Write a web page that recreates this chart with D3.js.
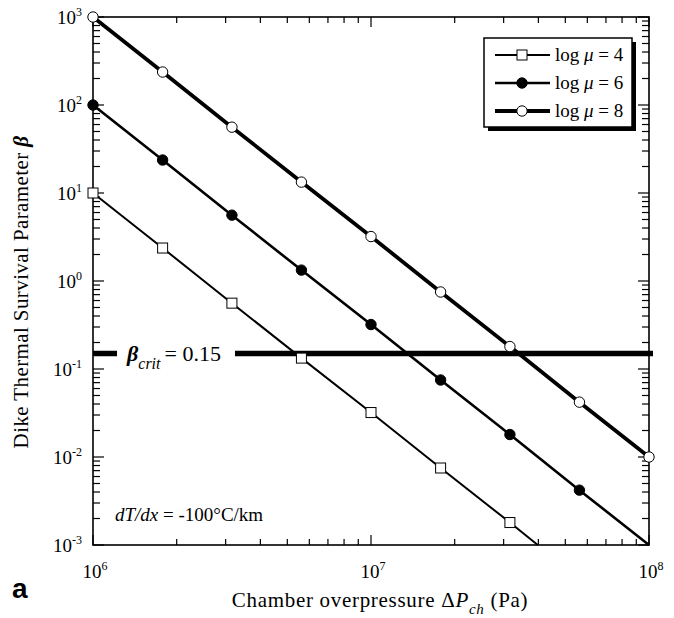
<!DOCTYPE html>
<html>
<head>
<meta charset="utf-8">
<script src="https://cdn.jsdelivr.net/npm/d3@7"></script>
<style>
  body { margin: 0; background: #fff; }
  text { font-family: "Liberation Serif", "Times New Roman", serif; fill: #000; }
</style>
</head>
<body>
<div id="chart"></div>
<script>
// chamber overpressure (Pa) at the marker positions
var pressures = [1e6, 1.78e6, 3.16e6, 5.62e6, 1e7, 1.78e7, 3.16e7, 5.62e7, 1e8];

// beta for each viscosity
var betaMu4 = [10, 2.37, 0.56, 0.133, 0.032, 0.0075, 0.0018];
var betaMu6 = [100, 23.7, 5.6, 1.33, 0.32, 0.075, 0.018, 0.0042];
var betaMu8 = [1000, 237, 56, 13.3, 3.2, 0.75, 0.18, 0.042, 0.01];

// where each line leaves the plot (no marker there)
var lineEndMu4 = [3.98e7, 0.001];
var lineEndMu6 = [1e8, 0.001];

var betaCrit = 0.15;
var seriesLogMu = ['4', '6', '8'];
var xTickExps = [6, 7, 8];
var yTickExps = [-3, -2, -1, 0, 1, 2, 3];

var W = 674, H = 618;
var margin = { top: 17, right: 25, bottom: 73, left: 93 },
    width = W - margin.left - margin.right,
    height = H - margin.top - margin.bottom;

var svg = d3.select('#chart').append('svg')
    .attr('width', W)
    .attr('height', H);

var g = svg.append('g')
    .attr('transform', 'translate(' + margin.left + ',' + margin.top + ')');

var x = d3.scaleLog().domain([1e6, 1e8]).range([0, width]);
var y = d3.scaleLog().domain([1e-3, 1e3]).range([height, 0]);

// tick positions: majors at decades, minors 2..9
function minorTicks(lo, hi) {
    var out = [];
    for (var e = lo; e < hi; e++) {
        for (var m = 2; m <= 9; m++) out.push(m * Math.pow(10, e));
    }
    return out;
}
var xMinor = minorTicks(6, 8);
var yMinor = minorTicks(-3, 3);

var axes = g.append('g').attr('stroke', '#000').attr('stroke-width', 1.2);

// bottom + top ticks
xMinor.forEach(function(v) {
    axes.append('line').attr('x1', x(v)).attr('x2', x(v)).attr('y1', height).attr('y2', height - 6);
    axes.append('line').attr('x1', x(v)).attr('x2', x(v)).attr('y1', 0).attr('y2', 6);
});
xTickExps.forEach(function(e) {
    var v = Math.pow(10, e);
    axes.append('line').attr('x1', x(v)).attr('x2', x(v)).attr('y1', height).attr('y2', height - 10);
    axes.append('line').attr('x1', x(v)).attr('x2', x(v)).attr('y1', 0).attr('y2', 10);
});
// left + right ticks
yMinor.forEach(function(v) {
    axes.append('line').attr('x1', 0).attr('x2', 7).attr('y1', y(v)).attr('y2', y(v));
    axes.append('line').attr('x1', width).attr('x2', width - 7).attr('y1', y(v)).attr('y2', y(v));
});
yTickExps.forEach(function(e) {
    var v = Math.pow(10, e);
    axes.append('line').attr('x1', 0).attr('x2', 11).attr('y1', y(v)).attr('y2', y(v));
    axes.append('line').attr('x1', width).attr('x2', width - 11).attr('y1', y(v)).attr('y2', y(v));
});

// frame
g.append('rect')
    .attr('width', width).attr('height', height)
    .attr('fill', 'none').attr('stroke', '#000').attr('stroke-width', 1.6);

// tick labels
yTickExps.forEach(function(e) {
    var t = g.append('text')
        .attr('x', -11).attr('y', y(Math.pow(10, e)) + 7)
        .attr('text-anchor', 'end')
        .style('font-size', '19px');
    t.append('tspan').text('10');
    t.append('tspan').attr('dy', -8).style('font-size', '12px').text(e);
});
xTickExps.forEach(function(e) {
    var t = g.append('text')
        .attr('x', x(Math.pow(10, e)) + 2).attr('y', height + 33)
        .attr('text-anchor', 'middle')
        .style('font-size', '19px');
    t.append('tspan').text('10');
    t.append('tspan').attr('dy', -8).style('font-size', '12px').text(e);
});

// beta crit line, with gap for its label
var yc = y(betaCrit);
g.append('line').attr('x1', 0).attr('x2', 24).attr('y1', yc).attr('y2', yc)
    .attr('stroke', '#000').attr('stroke-width', 5.5);
g.append('line').attr('x1', 142).attr('x2', width + 4).attr('y1', yc).attr('y2', yc)
    .attr('stroke', '#000').attr('stroke-width', 5.5);
var lab = g.append('text').attr('x', 34).attr('y', yc + 7).style('font-size', '22px');
lab.append('tspan').style('font-style', 'italic').style('font-weight', 'bold').text('\u03b2');
lab.append('tspan').attr('dy', 8).style('font-style', 'italic').style('font-size', '16px').text('crit');
lab.append('tspan').attr('dy', -8).attr('dx', 4).text('= 0.15');

// series
var line = d3.line()
    .x(function(d) { return x(d[0]); })
    .y(function(d) { return y(d[1]); });

function pts(vals) {
    return vals.map(function(v, i) { return [pressures[i], v]; });
}

var series = [
    { vals: pts(betaMu4), end: lineEndMu4, w: 2, marker: 'square', fill: '#fff' },
    { vals: pts(betaMu6), end: lineEndMu6, w: 2.6, marker: 'circle', fill: '#000' },
    { vals: pts(betaMu8), end: null, w: 3.8, marker: 'circle', fill: '#fff' }
];

var plot = g.append('g');
series.forEach(function(s) {
    var lp = s.end ? s.vals.concat([s.end]) : s.vals;
    plot.append('path')
        .attr('d', line(lp))
        .attr('fill', 'none')
        .attr('stroke', '#000')
        .attr('stroke-width', s.w);
});

function drawMarker(sel, type, fill, cx, cy) {
    if (type === 'square') {
        sel.append('rect')
            .attr('x', cx - 5).attr('y', cy - 5)
            .attr('width', 10).attr('height', 10)
            .attr('fill', fill).attr('stroke', '#000').attr('stroke-width', 1);
    } else {
        sel.append('circle')
            .attr('cx', cx).attr('cy', cy).attr('r', 5.2)
            .attr('fill', fill).attr('stroke', '#000').attr('stroke-width', 1);
    }
}

series.forEach(function(s) {
    s.vals.forEach(function(d) {
        drawMarker(plot, s.marker, s.fill, x(d[0]), y(d[1]));
    });
});

// legend
var lg = svg.append('g').attr('transform', 'translate(484,38)');
lg.append('rect').attr('x', 4).attr('y', 4).attr('width', 148).attr('height', 89).attr('fill', '#000');
lg.append('rect').attr('width', 148).attr('height', 89)
    .attr('fill', '#fff').attr('stroke', '#000').attr('stroke-width', 1.5);
series.forEach(function(s, i) {
    var ly = 17 + i * 28;
    lg.append('line').attr('x1', 11).attr('x2', 66).attr('y1', ly).attr('y2', ly)
        .attr('stroke', '#000').attr('stroke-width', s.w);
    drawMarker(lg, s.marker, s.fill, 38, ly);
    var t = lg.append('text').attr('x', 71).attr('y', ly + 6).style('font-size', '19px');
    t.append('tspan').text('log ');
    t.append('tspan').style('font-style', 'italic').text('\u03bc');
    t.append('tspan').text(' = ' + seriesLogMu[i]);
});

// gradient annotation
var ann = g.append('text').attr('x', 22).attr('y', height - 24).style('font-size', '19px');
ann.append('tspan').style('font-style', 'italic').text('dT/dx');
ann.append('tspan').text(' = -100\u00b0C/km');

// axis titles
var xt = svg.append('text')
    .attr('x', 380).attr('y', 607)
    .attr('text-anchor', 'middle')
    .style('font-size', '21px')
    .style('letter-spacing', '0.7px');
xt.append('tspan').text('Chamber overpressure \u0394');
xt.append('tspan').style('font-style', 'italic').text('P');
xt.append('tspan').attr('dy', 7).style('font-style', 'italic').style('font-size', '15px').text('ch');
xt.append('tspan').attr('dy', -7).text(' (Pa)');

var yt = svg.append('text')
    .attr('transform', 'translate(28,292) rotate(-90)')
    .attr('text-anchor', 'middle')
    .style('font-size', '21px')
    .style('letter-spacing', '0.4px');
yt.append('tspan').text('Dike Thermal Survival Parameter ');
yt.append('tspan').style('font-style', 'italic').style('font-weight', 'bold').text('\u03b2');

svg.append('text')
    .attr('x', 12).attr('y', 598)
    .style('font-family', '"Liberation Sans", Arial, sans-serif')
    .style('font-weight', 'bold')
    .style('font-size', '28px')
    .text('a');
</script>
</body>
</html>
